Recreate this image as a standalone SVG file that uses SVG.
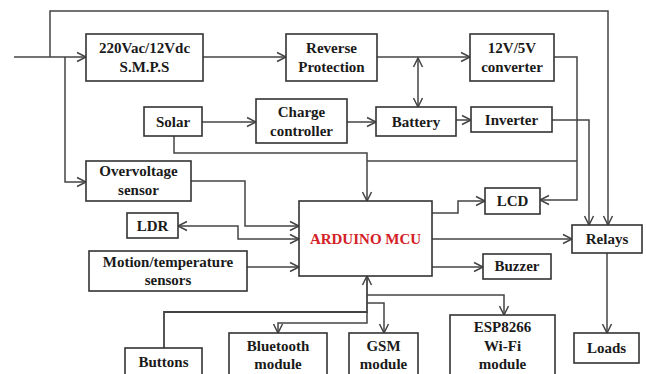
<svg xmlns="http://www.w3.org/2000/svg" width="646" height="374" viewBox="0 0 646 374">
<style>
.box{fill:#fff;stroke:#333;stroke-width:1.6}
.t{font-family:"Liberation Serif","Times New Roman",serif;font-weight:bold;font-size:15px;fill:#1a1a1a;text-anchor:middle}
.red{fill:#d42026}
.c{fill:none;stroke:#444;stroke-width:1.5}
.a{marker-end:url(#ar)}
.b{marker-start:url(#as);marker-end:url(#ar)}
</style>
<defs>
<marker id="ar" markerUnits="userSpaceOnUse" markerWidth="12" markerHeight="12" refX="10" refY="5" orient="auto" viewBox="0 0 12 10">
<path d="M1,0.5 L10,5 L1,9.5" fill="none" stroke="#444" stroke-width="1.5"/>
</marker>
<marker id="as" markerUnits="userSpaceOnUse" markerWidth="12" markerHeight="12" refX="10" refY="5" orient="auto-start-reverse" viewBox="0 0 12 10">
<path d="M1,0.5 L10,5 L1,9.5" fill="none" stroke="#444" stroke-width="1.5"/>
</marker>
</defs>
<rect width="646" height="374" fill="#fff"/>
<g id="connectors">
<path class="c a" d="M14,57 H86"/>
<path class="c a" d="M50,57 V11 H608 V225"/>
<path class="c a" d="M65,57 V182 H86"/>
<path class="c a" d="M203,57 H286"/>
<path class="c a" d="M377,57 H470"/>
<path class="c b" d="M418,58 V107"/>
<path class="c a" d="M202,122 H256"/>
<path class="c a" d="M347,122 H376"/>
<path class="c a" d="M456,120 H471"/>
<path class="c a" d="M552,120 H589 V225"/>
<path class="c a" d="M554,57 H577 V200 H540"/>
<path class="c" d="M367,161 H577"/>
<path class="c a" d="M174,136 V153 H367 V201"/>
<path class="c a" d="M432,213 H458 V201 H485"/>
<path class="c a" d="M432,239 H572"/>
<path class="c a" d="M432,267 H483"/>
<path class="c a" d="M607,253 V333"/>
<path class="c a" d="M191,181 H245 V226 H299"/>
<path class="c b" d="M178,226 H238 V239 H299"/>
<path class="c a" d="M247,267 H299"/>
<path class="c a" style="stroke-width:1.8" d="M164,348 V312 H367 V276"/>
<path class="c a" d="M367,312 V323 H278 V333"/>
<path class="c a" d="M367,303 H384 V333"/>
<path class="c a" d="M367,295 H504 V315"/>
</g>
<g id="smps"><rect class="box" x="86" y="34" width="117" height="47"/><text class="t" x="144.5" y="53">220Vac/12Vdc</text><text class="t" x="144.5" y="72">S.M.P.S</text></g>
<g id="reverse"><rect class="box" x="286" y="34" width="91" height="47"/><text class="t" x="331.5" y="53">Reverse</text><text class="t" x="331.5" y="72">Protection</text></g>
<g id="converter"><rect class="box" x="470" y="34" width="84" height="47"/><text class="t" x="512" y="53">12V/5V</text><text class="t" x="512" y="72">converter</text></g>
<g id="solar"><rect class="box" x="144" y="107" width="58" height="29"/><text class="t" x="173" y="127">Solar</text></g>
<g id="charge"><rect class="box" x="256" y="99" width="91" height="44"/><text class="t" x="301.5" y="117">Charge</text><text class="t" x="301.5" y="136">controller</text></g>
<g id="battery"><rect class="box" x="376" y="107" width="80" height="29"/><text class="t" x="416" y="127">Battery</text></g>
<g id="inverter"><rect class="box" x="471" y="107" width="81" height="25"/><text class="t" x="511.5" y="125">Inverter</text></g>
<g id="overvoltage"><rect class="box" x="86" y="161" width="105" height="40"/><text class="t" x="138.5" y="176">Overvoltage</text><text class="t" x="138.5" y="195">sensor</text></g>
<g id="ldr"><rect class="box" x="127" y="213" width="51" height="25"/><text class="t" x="152.5" y="231">LDR</text></g>
<g id="motion"><rect class="box" x="89" y="251" width="158" height="40"/><text class="t" x="168" y="267">Motion/temperature</text><text class="t" x="168" y="285">sensors</text></g>
<g id="mcu"><rect class="box" x="299" y="201" width="133" height="75"/><text class="t red" x="365.5" y="244">ARDUINO MCU</text></g>
<g id="lcd"><rect class="box" x="485" y="188" width="55" height="26"/><text class="t" x="512.5" y="206">LCD</text></g>
<g id="relays"><rect class="box" x="572" y="225" width="70" height="28"/><text class="t" x="607" y="244">Relays</text></g>
<g id="buzzer"><rect class="box" x="483" y="254" width="68" height="25"/><text class="t" x="517" y="271">Buzzer</text></g>
<g id="loads"><rect class="box" x="574" y="333" width="65" height="30"/><text class="t" x="606.5" y="353">Loads</text></g>
<g id="buttons"><rect class="box" x="125" y="348" width="77" height="40"/><text class="t" x="163.5" y="367">Buttons</text></g>
<g id="bluetooth"><rect class="box" x="229" y="333" width="98" height="50"/><text class="t" x="278" y="351">Bluetooth</text><text class="t" x="278" y="369">module</text></g>
<g id="gsm"><rect class="box" x="349" y="333" width="69" height="50"/><text class="t" x="383.5" y="351">GSM</text><text class="t" x="383.5" y="369">module</text></g>
<g id="esp"><rect class="box" x="450" y="315" width="105" height="70"/><text class="t" x="502.5" y="332">ESP8266</text><text class="t" x="502.5" y="351">Wi-Fi</text><text class="t" x="502.5" y="369">module</text></g>
</svg>
